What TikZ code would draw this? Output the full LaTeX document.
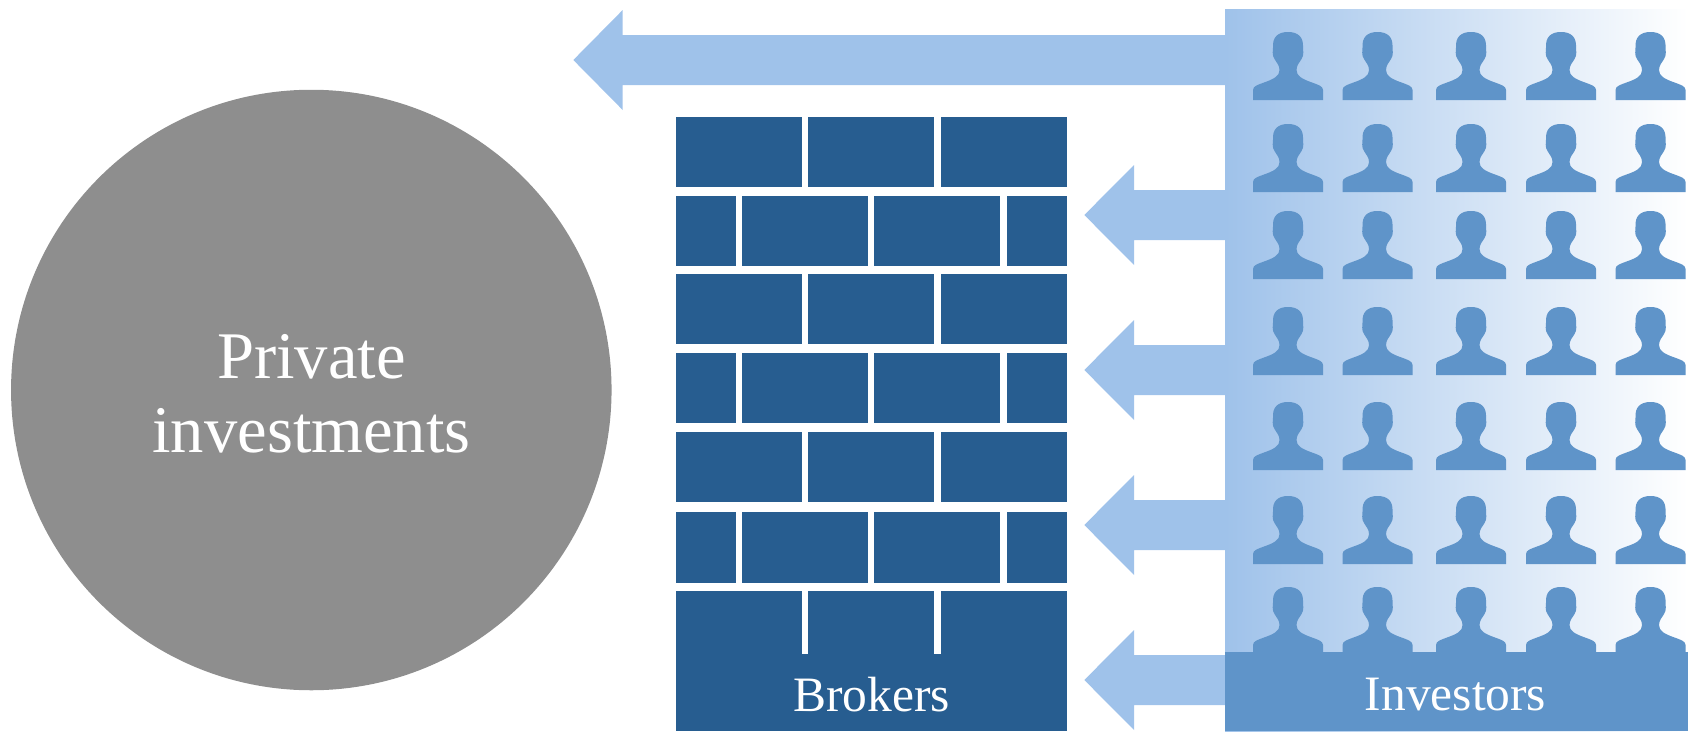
\documentclass[tikz,border=0pt]{standalone}
\usepackage{fontspec}
\setmainfont{Liberation Serif}
\definecolor{brick}{HTML}{275D90}
\definecolor{flow}{HTML}{9FC2EA}
\definecolor{person}{HTML}{5F94C9}
\definecolor{stone}{HTML}{8E8E8E}
\tikzset{
  brickbox/.style={fill=brick},
  flowarrow/.style={fill=flow},
  persona/.style={fill=person},
  labeltext/.style={text=white,inner sep=0pt,anchor=base},
}
\begin{document}
\begin{tikzpicture}[x=1pt,y=-1pt]
\useasboundingbox (0,0) rectangle (1688,731);
% circle
\node[circle,fill=stone,minimum size=600.5pt,inner sep=0pt] (pool) at (311.3,390) {};
\node[labeltext,font=\fontsize{66.6}{70}\selectfont] (poolone) at (311.5,378) {Private};
\node[labeltext,font=\fontsize{66.6}{70}\selectfont] (pooltwo) at (311.5,452) {investments};
% investors panel
\shade[left color=flow,right color=white] (1225,9) rectangle (1688,731);
% arrows
\foreach \cy/\tip/\neck in {60/573.3/622.7,215/1084.3/1134,370/1084.3/1134,525/1084.3/1134,680/1084.3/1134}
  \fill[flowarrow] (\tip,\cy) -- (\neck,\cy-50) -- (\neck,\cy-25) -- (1225,\cy-25) -- (1225,\cy+25) -- (\neck,\cy+25) -- (\neck,\cy+50) -- cycle;
% bricks
\foreach \t/\b in {117/187,274/344,432/502}
  \foreach \l/\r in {676/802,808/934,941/1067}
    \fill[brickbox] (\l,\t) rectangle (\r,\b);
\foreach \t/\b in {196/266,353/423,512/583}
  \foreach \l/\r in {676/736,742/868,874/1000,1007/1067}
    \fill[brickbox] (\l,\t) rectangle (\r,\b);
\fill[brickbox] (676,591) rectangle (1067,731);
\fill[white] (802,591) rectangle (808,654);
\fill[white] (934,591) rectangle (941,654);
% people
\fill[persona] (1225,652) rectangle (1688,731);
\foreach \ty in {32,124,211,307,402,496,587}
  \foreach \cx in {1288,1377.5,1471,1561,1650.5}
    \fill[persona,shift={(\cx,\ty)}]
      (-35,68) -- (-35,58)
      .. controls (-35,54) and (-30,52.8) .. (-24,50.5)
      .. controls (-14,47) and (-8.5,44) .. (-8.5,38)
      .. controls (-8.5,33) and (-12,30) .. (-13.5,27)
      .. controls (-14.8,25) and (-15.4,23) .. (-15.3,20.5)
      .. controls (-15.2,18.5) and (-14.8,17.5) .. (-15,15.5)
      .. controls (-15.7,5) and (-10,0) .. (0,0)
      .. controls (10,0) and (15.7,5) .. (15,15.5)
      .. controls (14.8,17.5) and (15.2,18.5) .. (15.3,20.5)
      .. controls (15.4,23) and (14.8,25) .. (13.5,27)
      .. controls (12,30) and (8.5,33) .. (8.5,38)
      .. controls (8.5,44) and (14,47) .. (24,50.5)
      .. controls (30,52.8) and (35,54) .. (35,58)
      -- (35,68) -- cycle;
% labels
\node[labeltext,font=\fontsize{49.5}{50}\selectfont] (brokers) at (871.5,711) {Brokers};
\node[labeltext,font=\fontsize{49.5}{50}\selectfont] (investors) at (1455.5,710) {Investors};
\end{tikzpicture}
\end{document}
